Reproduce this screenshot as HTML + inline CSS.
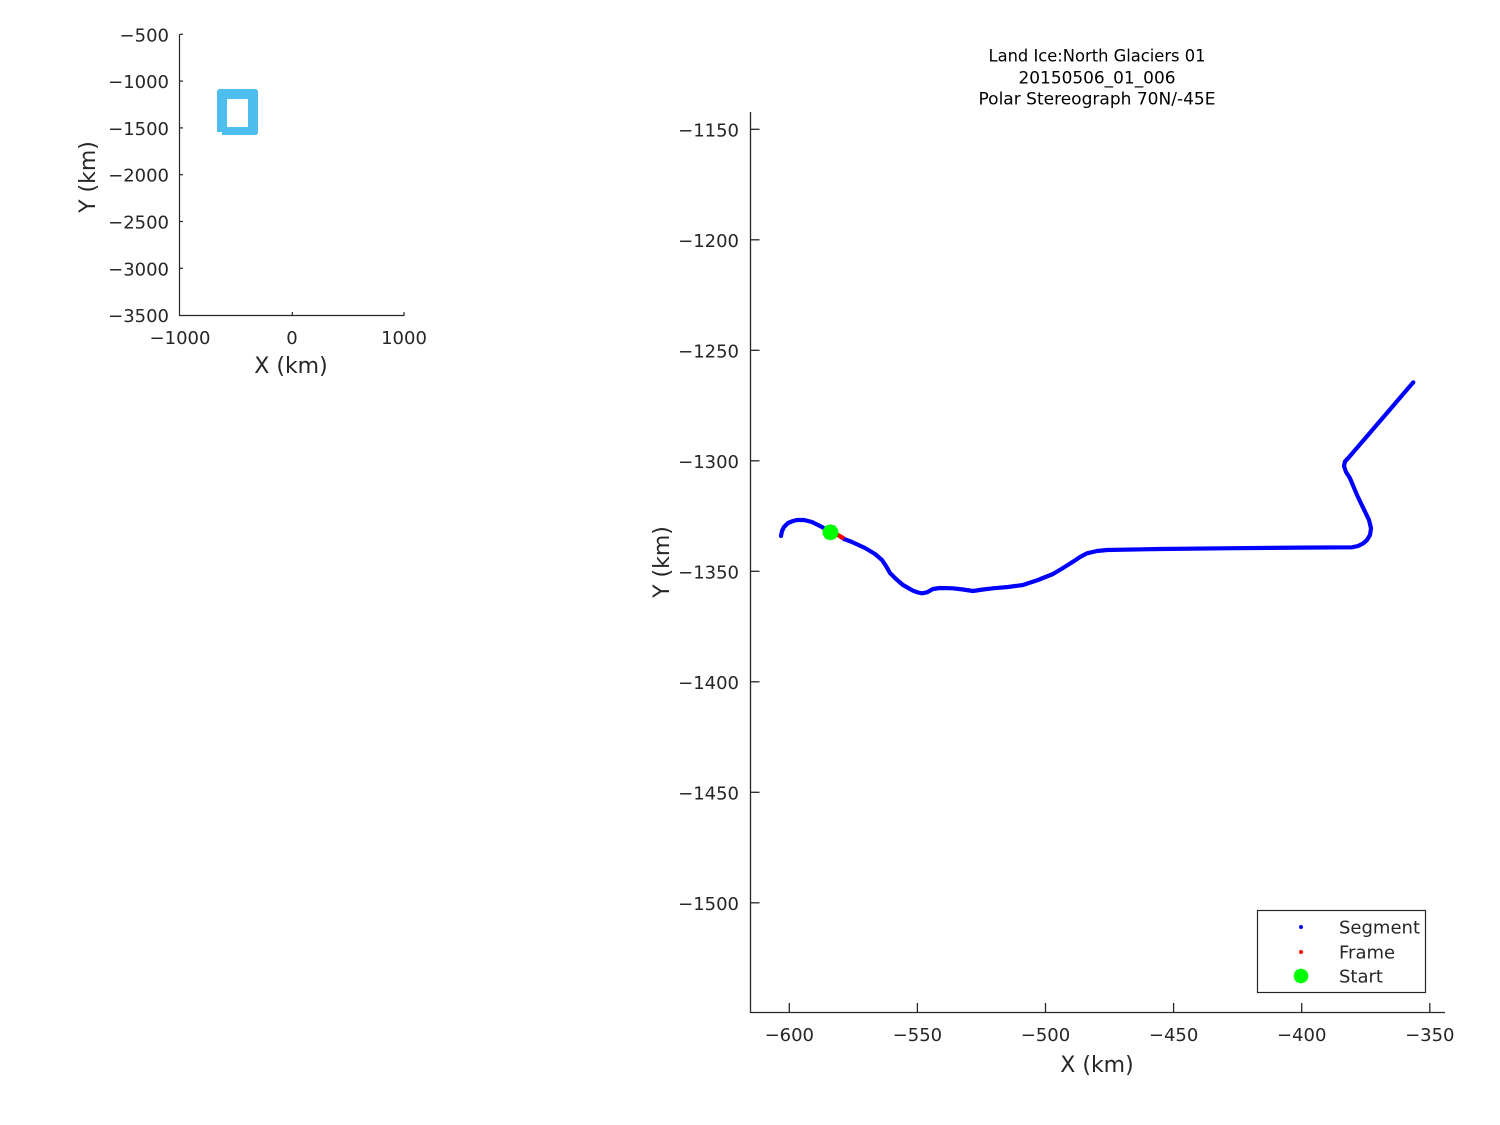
<!DOCTYPE html>
<html>
<head>
<meta charset="utf-8">
<style>
html,body{margin:0;padding:0;background:#fff;}
svg{display:block;}
text{font-family:"DejaVu Sans","Liberation Sans",sans-serif;fill:#262626;}
</style>
</head>
<body>
<svg width="1500" height="1125" viewBox="0 0 1500 1125" xmlns="http://www.w3.org/2000/svg">
<rect x="0" y="0" width="1500" height="1125" fill="#fff"/>

<!-- ===== Small overview axes ===== -->
<g stroke="#262626" stroke-width="1.2" fill="none">
  <line x1="179.5" y1="34" x2="179.5" y2="315.5"/>
  <line x1="179" y1="315.5" x2="404.5" y2="315.5"/>
  <line x1="180" y1="34.3" x2="183" y2="34.3"/>
  <line x1="180" y1="81.1" x2="183" y2="81.1"/>
  <line x1="180" y1="127.9" x2="183" y2="127.9"/>
  <line x1="180" y1="174.7" x2="183" y2="174.7"/>
  <line x1="180" y1="221.5" x2="183" y2="221.5"/>
  <line x1="180" y1="268.3" x2="183" y2="268.3"/>
  <line x1="292.3" y1="315" x2="292.3" y2="312"/>
  <line x1="404" y1="315" x2="404" y2="312"/>
</g>
<g font-size="18" text-anchor="end">
  <text x="169" y="41.3">−500</text>
  <text x="169" y="88.1">−1000</text>
  <text x="169" y="134.9">−1500</text>
  <text x="169" y="181.7">−2000</text>
  <text x="169" y="228.5">−2500</text>
  <text x="169" y="275.3">−3000</text>
  <text x="169" y="322">−3500</text>
</g>
<g font-size="18" text-anchor="middle">
  <text x="180" y="344">−1000</text>
  <text x="292" y="344">0</text>
  <text x="404" y="344">1000</text>
</g>
<text x="291" y="373" font-size="22" text-anchor="middle">X (km)</text>
<text transform="translate(95,177) rotate(-90)" font-size="22" text-anchor="middle">Y (km)</text>
<path fill="#4DBEEE" fill-rule="evenodd" d="M217,92 Q217,89 220,89 L255,89 Q258,89 258,92 L258,132 Q258,135 255,135 L222,135 L222,132 L217,132 Z M227,99 L248,99 L248,127 L227,127 Z"/>

<!-- ===== Main axes ===== -->
<text font-size="16.5" text-anchor="middle" fill="#000" style="fill:#000">
  <tspan x="1097" y="61.7" textLength="217" lengthAdjust="spacingAndGlyphs">Land Ice:North Glaciers 01</tspan>
</text>
<text x="1097" y="83.3" font-size="16.5" text-anchor="middle" style="fill:#000" textLength="157" lengthAdjust="spacingAndGlyphs">20150506_01_006</text>
<text x="1097" y="104.5" font-size="16.5" text-anchor="middle" style="fill:#000" textLength="237" lengthAdjust="spacingAndGlyphs">Polar Stereograph 70N/-45E</text>

<g stroke="#262626" stroke-width="1.3" fill="none">
  <line x1="750.5" y1="112" x2="750.5" y2="1012.5"/>
  <line x1="750" y1="1012.5" x2="1445" y2="1012.5"/>
  <line x1="751" y1="129.3" x2="759.5" y2="129.3"/>
  <line x1="751" y1="239.8" x2="759.5" y2="239.8"/>
  <line x1="751" y1="350.3" x2="759.5" y2="350.3"/>
  <line x1="751" y1="460.8" x2="759.5" y2="460.8"/>
  <line x1="751" y1="571.3" x2="759.5" y2="571.3"/>
  <line x1="751" y1="681.8" x2="759.5" y2="681.8"/>
  <line x1="751" y1="792.3" x2="759.5" y2="792.3"/>
  <line x1="751" y1="902.8" x2="759.5" y2="902.8"/>
  <line x1="789.3" y1="1012" x2="789.3" y2="1003"/>
  <line x1="917.4" y1="1012" x2="917.4" y2="1003"/>
  <line x1="1045.5" y1="1012" x2="1045.5" y2="1003"/>
  <line x1="1173.6" y1="1012" x2="1173.6" y2="1003"/>
  <line x1="1301.7" y1="1012" x2="1301.7" y2="1003"/>
  <line x1="1429.8" y1="1012" x2="1429.8" y2="1003"/>
</g>
<g font-size="18" text-anchor="end">
  <text x="739" y="136.3">−1150</text>
  <text x="739" y="246.8">−1200</text>
  <text x="739" y="357.3">−1250</text>
  <text x="739" y="467.8">−1300</text>
  <text x="739" y="578.3">−1350</text>
  <text x="739" y="688.8">−1400</text>
  <text x="739" y="799.3">−1450</text>
  <text x="739" y="909.8">−1500</text>
</g>
<g font-size="18" text-anchor="middle">
  <text x="789.3" y="1041">−600</text>
  <text x="917.4" y="1041">−550</text>
  <text x="1045.5" y="1041">−500</text>
  <text x="1173.6" y="1041">−450</text>
  <text x="1301.7" y="1041">−400</text>
  <text x="1429.8" y="1041">−350</text>
</g>
<text x="1097" y="1072" font-size="22" text-anchor="middle">X (km)</text>
<text transform="translate(669,562) rotate(-90)" font-size="22" text-anchor="middle">Y (km)</text>

<!-- track -->
<polyline fill="none" stroke="#0000FF" stroke-width="4.2" stroke-linejoin="round" stroke-linecap="round"
 points="781,536 782,531 784,527 788,523 793,521 797,520 804,520 812,522 822,527 830,532 838,535 844,539 852,542 865,548 875,554 882,560 886,566 890,573 896,579 903,585 913,590.7 918,592.5 922,593.3 927,592.3 933,589 940,588 953,588.3 963,589.5 973,591 983,589.5 993,588.3 1008,587 1023,585 1038,580 1053,574 1063,568 1073,561.7 1080,557 1087,553.3 1097,551 1107,550 1160,549 1223,548.3 1300,547.6 1352,547.3 1358,546 1363,543.5 1367,540 1370,535 1371,528.3 1369,520 1365,511.7 1357,495 1350,478.3 1346,472 1344,466 1345,461.5 1348.3,458 1413.3,382.3"/>
<line x1="837" y1="534.5" x2="844" y2="538.5" stroke="#FF0000" stroke-width="4.2" stroke-linecap="butt"/>
<!-- start marker -->
<g fill="#00FF00">
  <circle cx="830.5" cy="532.3" r="6.8"/>
  <path d="M830.5,524.3 L833,525 L835.5,525.8 L837,528 L838.3,530 L838.5,532.3 L838.3,534.6 L837,536.6 L835.5,538.8 L833,539.6 L830.5,540.3 L828,539.6 L825.5,538.8 L824,536.6 L822.7,534.6 L822.5,532.3 L822.7,530 L824,528 L825.5,525.8 L828,525 Z"/>
</g>

<!-- legend -->
<rect x="1257.5" y="910.5" width="168" height="82" fill="#fff" stroke="#262626" stroke-width="1.2"/>
<circle cx="1301" cy="927" r="2" fill="#0000FF"/>
<circle cx="1301" cy="952" r="2" fill="#FF0000"/>
<g fill="#00FF00">
  <circle cx="1301" cy="976" r="6.3"/>
  <path d="M1301,968.5 L1303.5,969.2 L1305.8,970.2 L1307.5,972.5 L1308.5,976 L1307.5,979.5 L1305.8,981.8 L1303.5,982.8 L1301,983.5 L1298.5,982.8 L1296.2,981.8 L1294.5,979.5 L1293.5,976 L1294.5,972.5 L1296.2,970.2 L1298.5,969.2 Z"/>
</g>
<g font-size="18">
  <text x="1339" y="933.3">Segment</text>
  <text x="1339" y="958.3">Frame</text>
  <text x="1339" y="982.7">Start</text>
</g>
</svg>
</body>
</html>
